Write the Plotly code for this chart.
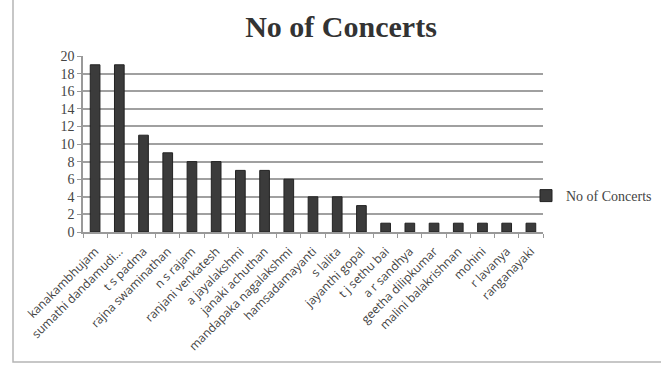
import plotly.graph_objects as go

names = ["kanakambhujam", "sumathi dandamudi...", "t s padma", "rajna swaminathan",
         "n s rajam", "ranjani venkatesh", "a jayalakshmi", "janaki achuthan",
         "mandapaka nagalakshmi", "hamsadamayanti", "s lalita", "jayanthi gopal",
         "t j sethu bai", "a r sandhya", "geetha dilipkumar", "malini balakrishnan",
         "mohini", "r lavanya", "ranganayaki"]
concerts = [19, 19, 11, 9, 8, 8, 7, 7, 6, 4, 4, 3, 1, 1, 1, 1, 1, 1, 1]
y_ticks = list(range(0, 21, 2))

fig = go.Figure()
fig.add_trace(go.Bar(
    x=names, y=concerts, name="No of Concerts",
    marker=dict(color="#3b3b3b", line=dict(color="#222222", width=1)),
    showlegend=True,
))

L, R, T, B = 83, 118, 56, 136
W, H = 661, 368
pw, ph = W - L - R, H - T - B

def px(x):
    return (x - L) / pw

def py(y):
    return (H - B - y) / ph

fig.update_layout(
    width=W, height=H,
    margin=dict(l=L, r=R, t=T, b=B, autoexpand=False),
    paper_bgcolor="white", plot_bgcolor="white",
    bargap=0.6,
    title=dict(text="<b>No of Concerts</b>", x=341 / W, xanchor="center",
               y=1 - 26 / H, yanchor="middle",
               font=dict(family="Liberation Serif", size=30, color="#333333")),
    xaxis=dict(
        type="category", tickangle=-45, tickson="boundaries",
        ticks="outside", ticklen=4, tickcolor="#999999",
        showline=True, linecolor="#999999", linewidth=1.5,
        tickfont=dict(family="Open Sans", size=12, color="#3f3f3f"),
        ticklabelstandoff=6,
        showgrid=False,
    ),
    yaxis=dict(
        range=[0, 20], tickvals=y_ticks,
        ticks="outside", ticklen=4, tickcolor="#999999",
        showline=True, linecolor="#999999", linewidth=1.5,
        showgrid=True, gridcolor="#a0a0a0", gridwidth=2,
        tickfont=dict(family="Liberation Serif", size=14, color="#444444"),
        zeroline=False,
    ),
    legend=dict(x=px(526), xanchor="left", y=py(196), yanchor="middle",
                font=dict(family="Liberation Serif", size=14, color="#444444"),
                bgcolor="rgba(0,0,0,0)", itemwidth=30),
    shapes=[dict(type="rect", xref="paper", yref="paper",
                 x0=px(13), x1=px(670), y0=py(362), y1=py(-3),
                 line=dict(color="#b5b5b5", width=1.5), layer="below")],
)

fig.write_html("out.html")
